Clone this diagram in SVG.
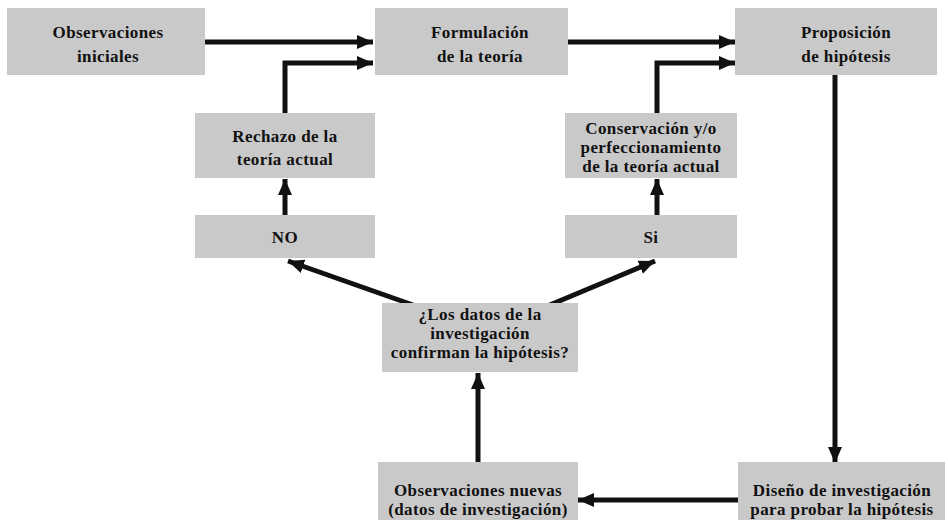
<svg xmlns="http://www.w3.org/2000/svg" width="948" height="520" viewBox="0 0 948 520">
<defs>
<style>
.box{fill:#c9c9c9;stroke:none}
.t{font-family:'Liberation Serif','DejaVu Serif',serif;font-weight:bold;font-size:17px;letter-spacing:0.4px;fill:#111;text-anchor:middle}
.c{fill:none;stroke:#111;stroke-width:5;stroke-linejoin:miter}
</style>
<marker id="ah" markerUnits="userSpaceOnUse" markerWidth="18" markerHeight="16" refX="16" refY="8" orient="auto">
<path d="M0,1 L16,8 L0,15 Z" fill="#111"/>
</marker>
</defs>
<rect width="948" height="520" fill="#fff"/>

<g id="connectors">
<path class="c" d="M205,42 H373" marker-end="url(#ah)"/>
<path class="c" d="M568,42 H735" marker-end="url(#ah)"/>
<path class="c" d="M285,113 V63 H373" marker-end="url(#ah)"/>
<path class="c" d="M657,113 V63 H735" marker-end="url(#ah)"/>
<path class="c" d="M835,75 V463" marker-end="url(#ah)"/>
<path class="c" d="M738,500 H578" marker-end="url(#ah)"/>
<path class="c" d="M478,462 V373" marker-end="url(#ah)"/>
<path class="c" d="M413,305 L288,261" marker-end="url(#ah)"/>
<path class="c" d="M545,307 L655,261" marker-end="url(#ah)"/>
<path class="c" d="M285,215 V179" marker-end="url(#ah)"/>
<path class="c" d="M657,215 V179" marker-end="url(#ah)"/>
</g>

<g id="obs_iniciales">
<rect class="box" x="7" y="8" width="198" height="67"/>
<text class="t" x="108" y="38">Observaciones</text>
<text class="t" x="108" y="62">iniciales</text>
</g>

<g id="formulacion">
<rect class="box" x="375" y="8" width="193" height="67"/>
<text class="t" x="480" y="38">Formulación</text>
<text class="t" x="480" y="62">de la teoría</text>
</g>

<g id="proposicion">
<rect class="box" x="735" y="8" width="202" height="67"/>
<text class="t" x="846" y="38">Proposición</text>
<text class="t" x="846" y="62">de hipótesis</text>
</g>

<g id="rechazo">
<rect class="box" x="195" y="113" width="180" height="65"/>
<text class="t" x="285" y="142">Rechazo de la</text>
<text class="t" x="285" y="165">teoría actual</text>
</g>

<g id="conservacion">
<rect class="box" x="565" y="113" width="172" height="65"/>
<text class="t" x="651" y="134">Conservación y/o</text>
<text class="t" x="651" y="153">perfeccionamiento</text>
<text class="t" x="651" y="172">de la teoría actual</text>
</g>

<g id="no">
<rect class="box" x="195" y="215" width="180" height="43"/>
<text class="t" x="285" y="243">NO</text>
</g>

<g id="si">
<rect class="box" x="565" y="215" width="172" height="43"/>
<text class="t" x="651" y="243">Si</text>
</g>

<g id="pregunta">
<rect class="box" x="382" y="303" width="196" height="69"/>
<text class="t" x="480" y="320">¿Los datos de la</text>
<text class="t" x="480" y="339">investigación</text>
<text class="t" x="480" y="358">confirman la hipótesis?</text>
</g>

<g id="obs_nuevas">
<rect class="box" x="378" y="462" width="200" height="58"/>
<text class="t" x="478" y="496">Observaciones nuevas</text>
<text class="t" x="478" y="515">(datos de investigación)</text>
</g>

<g id="diseno">
<rect class="box" x="738" y="462" width="207" height="58"/>
<text class="t" x="842" y="496">Diseño de investigación</text>
<text class="t" x="842" y="515">para probar la hipótesis</text>
</g>
</svg>
